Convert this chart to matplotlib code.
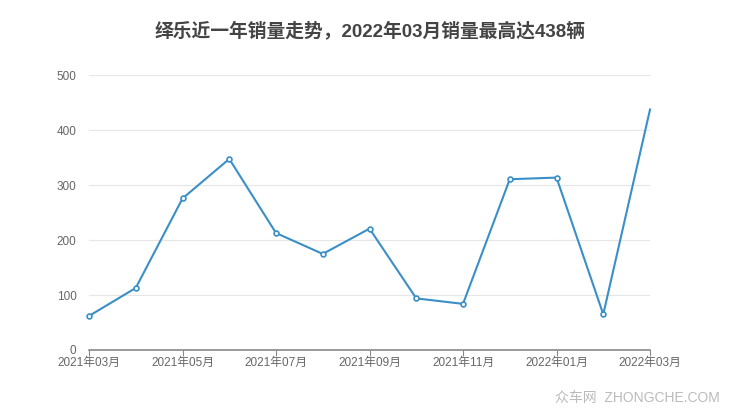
import matplotlib
matplotlib.use('Agg')
import matplotlib.pyplot as plt

plt.rcParams['font.family'] = ['Liberation Sans', 'Noto Sans CJK SC', 'DejaVu Sans']

months = ['2021年03月', '2021年04月', '2021年05月', '2021年06月', '2021年07月',
          '2021年08月', '2021年09月', '2021年10月', '2021年11月', '2021年12月',
          '2022年01月', '2022年02月', '2022年03月']
sales = [62, 113, 276, 348, 213, 175, 221, 94, 84, 311, 314, 65, 438]
y_ticks = [0, 100, 200, 300, 400, 500]

fig = plt.figure(figsize=(7.4, 4.17), dpi=100)
ax = fig.add_axes([0.1203, 0.1607, 0.7581, 0.6583])

x = list(range(len(months)))
ax.plot(x, sales, color='#3a8fc7', lw=1.5, marker='o', ms=3.5,
        markerfacecolor='white', markeredgewidth=1.2, markevery=list(range(len(months) - 1)),
        clip_on=False, zorder=3)

ax.set_xlim(0, len(months) - 1)
ax.set_ylim(0, 500)
ax.set_yticks(y_ticks)
ax.set_xticks(x[::2])
ax.set_xticklabels(months[::2])
ax.grid(axis='y', color='#e6e6e6', lw=0.8)
ax.set_axisbelow(True)

for s in ['top', 'right', 'left']:
    ax.spines[s].set_visible(False)
ax.spines['bottom'].set_color('#888888')
ax.spines['bottom'].set_linewidth(1.2)
ax.tick_params(axis='y', length=0, pad=9, labelsize=8.5, labelcolor='#666666')
ax.tick_params(axis='x', length=4, color='#888888', pad=1, labelsize=8.5, labelcolor='#666666')

fig.text(0.5, 0.925, '绎乐近一年销量走势，2022年03月销量最高达438辆', ha='center', va='center',
         fontsize=13.5, fontweight='bold', color='#444444')
fig.text(0.973, 0.045, '众车网  ZHONGCHE.COM', ha='right', va='center',
         fontsize=10, color='#bbbbbb')

fig.savefig('out.png', dpi=100)
